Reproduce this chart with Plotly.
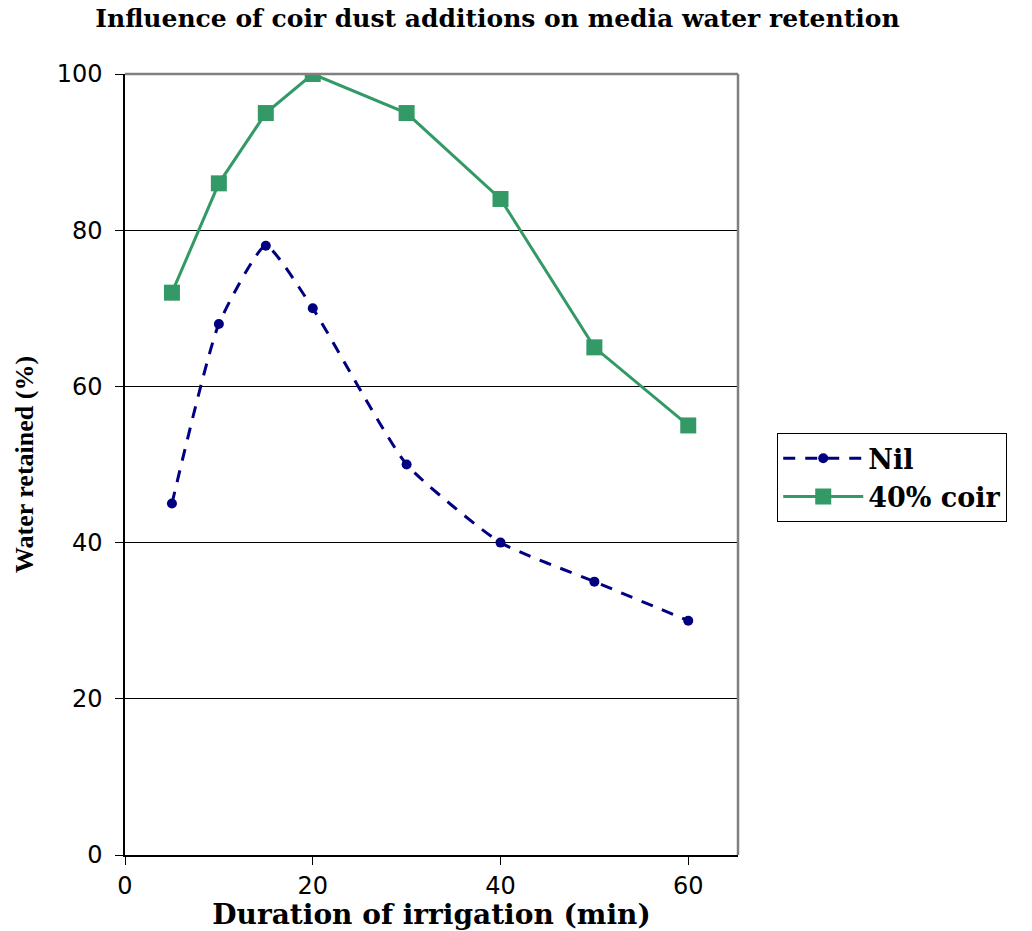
import plotly.graph_objects as go

duration = [5, 10, 15, 20, 30, 40, 50, 60]
nil = [45, 68, 78, 70, 50, 40, 35, 30]
coir40 = [72, 86, 95, 100, 95, 84, 65, 55]
x_ticks = [0, 20, 40, 60]
y_ticks = [0, 20, 40, 60, 80, 100]

fig = go.Figure()
fig.add_trace(go.Scatter(
    x=duration, y=nil, name="Nil", mode="lines+markers",
    line=dict(color="#000080", width=3, dash="12px,10px", shape="spline", smoothing=0.5),
    marker=dict(symbol="circle", size=10, color="#000080"),
))
fig.add_trace(go.Scatter(
    x=duration, y=coir40, name="40% coir", mode="lines+markers",
    line=dict(color="#339966", width=3),
    marker=dict(symbol="square", size=16, color="#339966"),
))

fig.update_layout(
    width=1032, height=931,
    margin=dict(l=125, r=294, t=74, b=76),
    paper_bgcolor="white", plot_bgcolor="white",
    title=dict(text="Influence of coir dust additions on media water retention",
               x=0.482, xanchor="center", y=0.98, yanchor="middle",
               font=dict(family="DejaVu Serif", size=25, color="black", weight="bold")),
    xaxis=dict(range=[0, 65.3], tickvals=x_ticks, showgrid=False, zeroline=False,
               showline=True, linecolor="black", linewidth=1.5, automargin=False,
               ticks="outside", ticklen=8, tickcolor="black", ticklabelstandoff=0,
               tickfont=dict(family="DejaVu Sans", size=24, color="black"),
               title=dict(text="Duration of irrigation (min)", standoff=6,
                          font=dict(family="DejaVu Serif", size=28, color="black", weight="bold"))),
    yaxis=dict(range=[0, 100], tickvals=y_ticks, showgrid=True, gridcolor="black", gridwidth=1,
               zeroline=False, showline=True, linecolor="black", linewidth=1.5, automargin=False,
               ticks="outside", ticklen=8, tickcolor="black", ticklabelstandoff=8,
               tickfont=dict(family="DejaVu Sans", size=24, color="black"),
               title=dict(text="Water retained (%)", standoff=16,
                          font=dict(family="Liberation Serif", size=26, color="black", weight="bold"))),
    legend=dict(x=1.064, y=0.54, xanchor="left", yanchor="top",
                bgcolor="white", bordercolor="black", borderwidth=1,
                itemwidth=80, tracegroupgap=0,
                font=dict(family="DejaVu Serif", size=27, color="black", weight="bold")),
    showlegend=True,
)
fig.add_shape(type="line", xref="paper", yref="paper", x0=0, x1=1, y0=1, y1=1,
              line=dict(color="#808080", width=2.5))
fig.add_shape(type="line", xref="paper", yref="paper", x0=1, x1=1, y0=0, y1=1,
              line=dict(color="#808080", width=2.5))

fig.write_html("out.html")
